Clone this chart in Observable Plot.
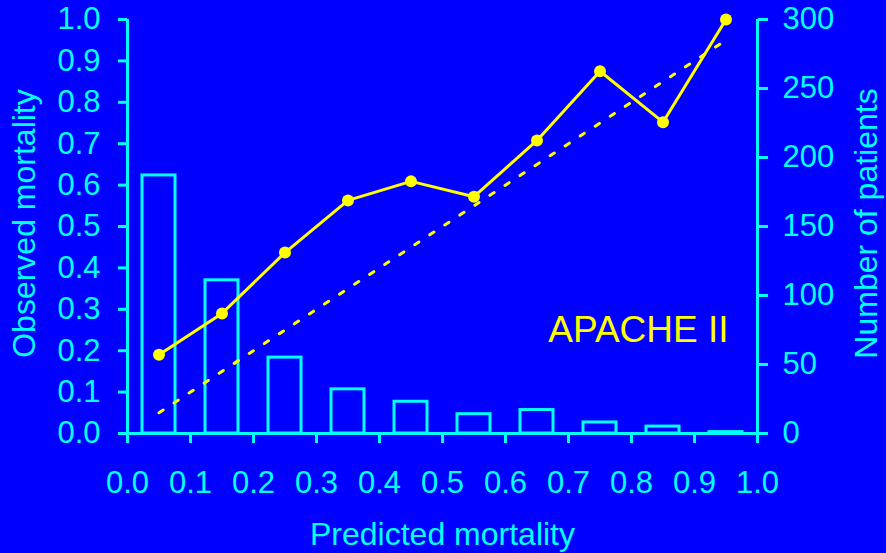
<!DOCTYPE html>
<html>
<head>
<meta charset="utf-8">
<script src="https://cdn.jsdelivr.net/npm/d3@7"></script>
<script src="https://cdn.jsdelivr.net/npm/@observablehq/plot@0.6"></script>
<style>
  html, body { margin: 0; padding: 0; background: #0000FF; }
</style>
</head>
<body>
<div id="chart"></div>
<script>
// Calibration of predicted vs. observed mortality, by decile of predicted risk
const binLo = [0.0, 0.1, 0.2, 0.3, 0.4, 0.5, 0.6, 0.7, 0.8, 0.9];
const binHi = [0.1, 0.2, 0.3, 0.4, 0.5, 0.6, 0.7, 0.8, 0.9, 1.0];
const binMid = [0.05, 0.15, 0.25, 0.35, 0.45, 0.55, 0.65, 0.75, 0.85, 0.95];
const observed = [0.19, 0.29, 0.437, 0.563, 0.609, 0.572, 0.708, 0.875, 0.752, 1.0];
const patients = [187, 111, 55, 32, 23, 14, 17, 8, 5, 1];
const leftTicks = [0.0, 0.1, 0.2, 0.3, 0.4, 0.5, 0.6, 0.7, 0.8, 0.9, 1.0];
const xTicks = [0.0, 0.1, 0.2, 0.3, 0.4, 0.5, 0.6, 0.7, 0.8, 0.9, 1.0];
const rightTicks = [0, 50, 100, 150, 200, 250, 300];
const patientsMax = 300;
const identity = [0.05, 0.95];

const CYAN = "#00FFFF";
const YELLOW = "#FFFF00";
const BLUE = "#0000FF";
const TICK_FONT = 31;
const TITLE_FONT = 32;

const bins = binMid.map((m, i) => ({lo: binLo[i], hi: binHi[i], mid: m, obs: observed[i], n: patients[i]}));
const diag = identity.map(v => ({x: v, y: v}));

const chart = Plot.plot({
  width: 886,
  height: 553,
  marginLeft: 127,
  marginRight: 129,
  marginTop: 19,
  marginBottom: 120,
  style: {background: BLUE, color: CYAN, fontFamily: "'Liberation Sans', Arial, sans-serif", fontSize: "30px"},
  x: {domain: [0, 1]},
  y: {domain: [0, 1]},
  marks: [
    // patient counts, drawn on the right-hand scale (0–300)
    Plot.rectY(bins, {x1: "lo", x2: "hi", y1: 0, y2: d => d.n / patientsMax, insetLeft: 15, insetRight: 15, fill: "none", stroke: CYAN, strokeWidth: 3}),
    // axis lines
    Plot.ruleX([0], {y1: 0, y2: 1, stroke: CYAN, strokeWidth: 3}),
    Plot.ruleX([1], {y1: 0, y2: 1, stroke: CYAN, strokeWidth: 3}),
    Plot.ruleY([0], {x1: 0, x2: 1, stroke: CYAN, strokeWidth: 3}),
    Plot.axisY({anchor: "left", ticks: leftTicks, tickFormat: d3.format(".1f"), tickSize: 9, tickPadding: 18, strokeWidth: 3, stroke: CYAN, fill: CYAN, fontSize: TICK_FONT, label: null}),
    Plot.axisY({anchor: "right", ticks: rightTicks.map(v => v / patientsMax), tickFormat: v => String(Math.round(v * patientsMax)), tickSize: 10, tickPadding: 15, strokeWidth: 3, stroke: CYAN, fill: CYAN, fontSize: TICK_FONT, label: null}),
    Plot.axisX({anchor: "bottom", ticks: xTicks, tickFormat: d3.format(".1f"), tickSize: 10, tickPadding: 27, strokeWidth: 3, stroke: CYAN, fill: CYAN, fontSize: TICK_FONT, label: null}),
    // axis titles
    Plot.text(["Observed mortality"], {frameAnchor: "left", dx: -103, dy: -3, rotate: -90, textAnchor: "middle", lineAnchor: "middle", fill: CYAN, fontSize: TITLE_FONT}),
    Plot.text(["Number of patients"], {frameAnchor: "right", dx: 109, dy: -3, rotate: -90, textAnchor: "middle", lineAnchor: "middle", fill: CYAN, fontSize: TITLE_FONT}),
    Plot.text(["Predicted mortality"], {frameAnchor: "bottom", dy: 101, textAnchor: "middle", lineAnchor: "middle", fill: CYAN, fontSize: TITLE_FONT}),
    // line of perfect calibration
    Plot.line(diag, {x: "x", y: "y", stroke: YELLOW, strokeWidth: 3, strokeDasharray: "5,13"}),
    // observed mortality per bin
    Plot.line(bins, {x: "mid", y: "obs", stroke: YELLOW, strokeWidth: 3}),
    Plot.dot(bins, {x: "mid", y: "obs", r: 6, fill: YELLOW, stroke: "none"}),
    Plot.text(["APACHE II"], {x: 0.811, y: 0.25, fill: YELLOW, fontSize: 37})
  ]
});

document.getElementById("chart").appendChild(chart);
</script>
</body>
</html>
